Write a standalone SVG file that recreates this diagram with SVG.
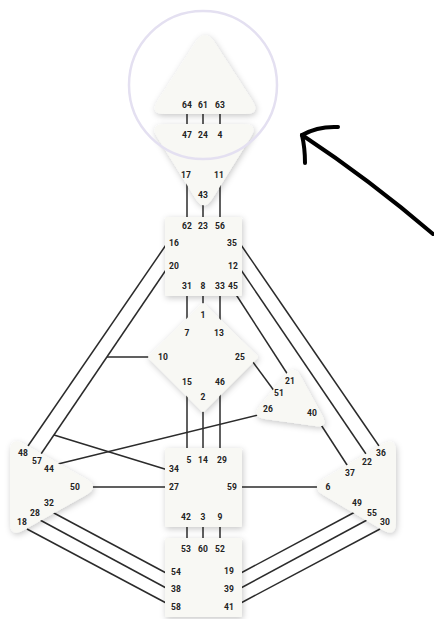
<svg xmlns="http://www.w3.org/2000/svg" width="434" height="619" viewBox="0 0 434 619">
<defs>
<filter id="sh" x="-30%" y="-30%" width="160%" height="160%">
<feDropShadow dx="1" dy="2" stdDeviation="3" flood-color="#000" flood-opacity="0.22"/>
</filter>
<style>
.ch{stroke:#2b2b2b;stroke-width:1.5;fill:none;stroke-linecap:butt}
.c{fill:#f8f8f4;filter:url(#sh)}
.t{font-family:Roboto,"DejaVu Sans",sans-serif;font-weight:700;font-size:8.5px;fill:#222;text-anchor:middle;dominant-baseline:central}
.hand{stroke:#000;stroke-width:4;fill:none;stroke-linecap:round;stroke-linejoin:round}
</style>
</defs>
<rect width="434" height="619" fill="#fff"/>

<g id="connectors">
<line class="ch" x1="187" y1="110" x2="187" y2="130"/>
<line class="ch" x1="203" y1="110" x2="203" y2="130"/>
<line class="ch" x1="220" y1="110" x2="220" y2="130"/>
<line class="ch" x1="187" y1="170" x2="187" y2="220"/>
<line class="ch" x1="203" y1="195" x2="203" y2="220"/>
<line class="ch" x1="220" y1="170" x2="220" y2="220"/>
<line class="ch" x1="187" y1="290" x2="187" y2="330"/>
<line class="ch" x1="203" y1="290" x2="203" y2="310"/>
<line class="ch" x1="220" y1="290" x2="220" y2="330"/>
<line class="ch" x1="187" y1="385" x2="187" y2="452"/>
<line class="ch" x1="203" y1="400" x2="203" y2="452"/>
<line class="ch" x1="220" y1="385" x2="220" y2="452"/>
<line class="ch" x1="187" y1="520" x2="187" y2="542"/>
<line class="ch" x1="203" y1="520" x2="203" y2="542"/>
<line class="ch" x1="220" y1="520" x2="220" y2="542"/>
<line class="ch" x1="168" y1="242" x2="28" y2="446"/>
<line class="ch" x1="168" y1="267" x2="41" y2="454"/>
<line class="ch" x1="150" y1="357" x2="107" y2="357"/>
<line class="ch" x1="54" y1="435" x2="168" y2="470"/>
<line class="ch" x1="58" y1="464" x2="262" y2="414"/>
<line class="ch" x1="85" y1="487" x2="168" y2="487"/>
<line class="ch" x1="52" y1="512" x2="168" y2="574"/>
<line class="ch" x1="40" y1="520" x2="168" y2="589"/>
<line class="ch" x1="27" y1="529" x2="168" y2="604"/>
<line class="ch" x1="239" y1="242" x2="379" y2="446"/>
<line class="ch" x1="239" y1="267" x2="366" y2="454"/>
<line class="ch" x1="235" y1="293" x2="290" y2="378"/>
<line class="ch" x1="250" y1="358" x2="275" y2="392"/>
<line class="ch" x1="314" y1="414" x2="349" y2="468"/>
<line class="ch" x1="239" y1="487" x2="322" y2="487"/>
<line class="ch" x1="239" y1="574" x2="355" y2="512"/>
<line class="ch" x1="239" y1="589" x2="367" y2="520"/>
<line class="ch" x1="239" y1="604" x2="380" y2="529"/>
</g>

<g id="head">
<path class="c" d="M195,43 Q205,27 215,43 L252.2,100.6 Q261,114 245,114 L165,114 Q149,114 157.8,100.6 Z"/>
<text class="t" x="187" y="105">64</text>
<text class="t" x="203" y="105">61</text>
<text class="t" x="220" y="105">63</text>
</g>

<g id="ajna">
<path class="c" d="M165,124 L243,124 Q259,124 250.5,137.6 L212.5,198.4 Q204,212 195.5,198.4 L157.5,137.6 Q149,124 165,124 Z"/>
<text class="t" x="187" y="135">47</text>
<text class="t" x="203" y="135">24</text>
<text class="t" x="220" y="135">4</text>
<text class="t" x="186" y="175">17</text>
<text class="t" x="219" y="175">11</text>
<text class="t" x="203" y="195">43</text>
</g>

<g id="throat">
<rect class="c" x="165" y="217" width="77" height="79" rx="1.5"/>
<text class="t" x="187" y="226">62</text>
<text class="t" x="203" y="226">23</text>
<text class="t" x="220" y="226">56</text>
<text class="t" x="174" y="243">16</text>
<text class="t" x="232" y="243">35</text>
<text class="t" x="174" y="266">20</text>
<text class="t" x="233" y="266">12</text>
<text class="t" x="187" y="286">31</text>
<text class="t" x="203" y="286">8</text>
<text class="t" x="220" y="286">33</text>
<text class="t" x="233" y="286">45</text>
</g>

<g id="g-center">
<path class="c" d="M203,304 L257,357 L203,411 L149,357 Z" stroke="#f8f8f4" stroke-width="2" stroke-linejoin="round"/>
<text class="t" x="203" y="315">1</text>
<text class="t" x="187" y="333">7</text>
<text class="t" x="219" y="333">13</text>
<text class="t" x="163" y="357">10</text>
<text class="t" x="240" y="357">25</text>
<text class="t" x="187" y="382">15</text>
<text class="t" x="220" y="382">46</text>
<text class="t" x="203" y="397">2</text>
</g>

<g id="ego">
<path class="c" d="M285.2,374.9 Q294,364 300.7,376.3 L322.3,415.7 Q329,428 315.1,426 L264.9,419 Q251,417 259.8,406.1 Z"/>
<text class="t" x="290" y="381">21</text>
<text class="t" x="279" y="393">51</text>
<text class="t" x="268" y="409">26</text>
<text class="t" x="312" y="413">40</text>
</g>

<g id="spleen">
<path class="c" d="M23.9,443.9 L86.1,479.1 Q100,487 86.1,494.9 L23.9,530.1 Q10,538 10,522 L10,452 Q10,436 23.9,443.9 Z"/>
<text class="t" x="23" y="453">48</text>
<text class="t" x="37" y="461">57</text>
<text class="t" x="49" y="469">44</text>
<text class="t" x="75" y="487">50</text>
<text class="t" x="49" y="503">32</text>
<text class="t" x="35" y="513">28</text>
<text class="t" x="22" y="522">18</text>
</g>

<g id="solar-plexus">
<path class="c" d="M382.2,444.2 L323.8,478.8 Q310,487 323.8,495.2 L382.2,529.8 Q396,538 396,522 L396,452 Q396,436 382.2,444.2 Z"/>
<text class="t" x="381" y="453">36</text>
<text class="t" x="367" y="462">22</text>
<text class="t" x="350" y="473">37</text>
<text class="t" x="328" y="487">6</text>
<text class="t" x="357" y="503">49</text>
<text class="t" x="372" y="513">55</text>
<text class="t" x="385" y="522">30</text>
</g>

<g id="sacral">
<rect class="c" x="165" y="448" width="77" height="79" rx="1.5"/>
<text class="t" x="189" y="460">5</text>
<text class="t" x="203" y="460">14</text>
<text class="t" x="222" y="460">29</text>
<text class="t" x="174" y="469">34</text>
<text class="t" x="174" y="487">27</text>
<text class="t" x="232" y="487">59</text>
<text class="t" x="186" y="517">42</text>
<text class="t" x="203" y="517">3</text>
<text class="t" x="220" y="517">9</text>
</g>

<g id="root">
<rect class="c" x="165" y="538" width="77" height="79" rx="1.5"/>
<text class="t" x="186" y="549">53</text>
<text class="t" x="203" y="549">60</text>
<text class="t" x="220" y="549">52</text>
<text class="t" x="176" y="572">54</text>
<text class="t" x="229" y="571">19</text>
<text class="t" x="176" y="589">38</text>
<text class="t" x="229" y="589">39</text>
<text class="t" x="176" y="607">58</text>
<text class="t" x="229" y="607">41</text>
</g>

<g id="highlight">
<circle cx="203" cy="85" r="74" fill="none" stroke="#e4e0f1" stroke-width="2.5"/>
<path class="hand" d="M302,135 Q370,180 433,234"/>
<path class="hand" d="M302,135 Q318,126 338,127"/>
<path class="hand" d="M302,135 Q305,148 305,163"/>
</g>
</svg>
